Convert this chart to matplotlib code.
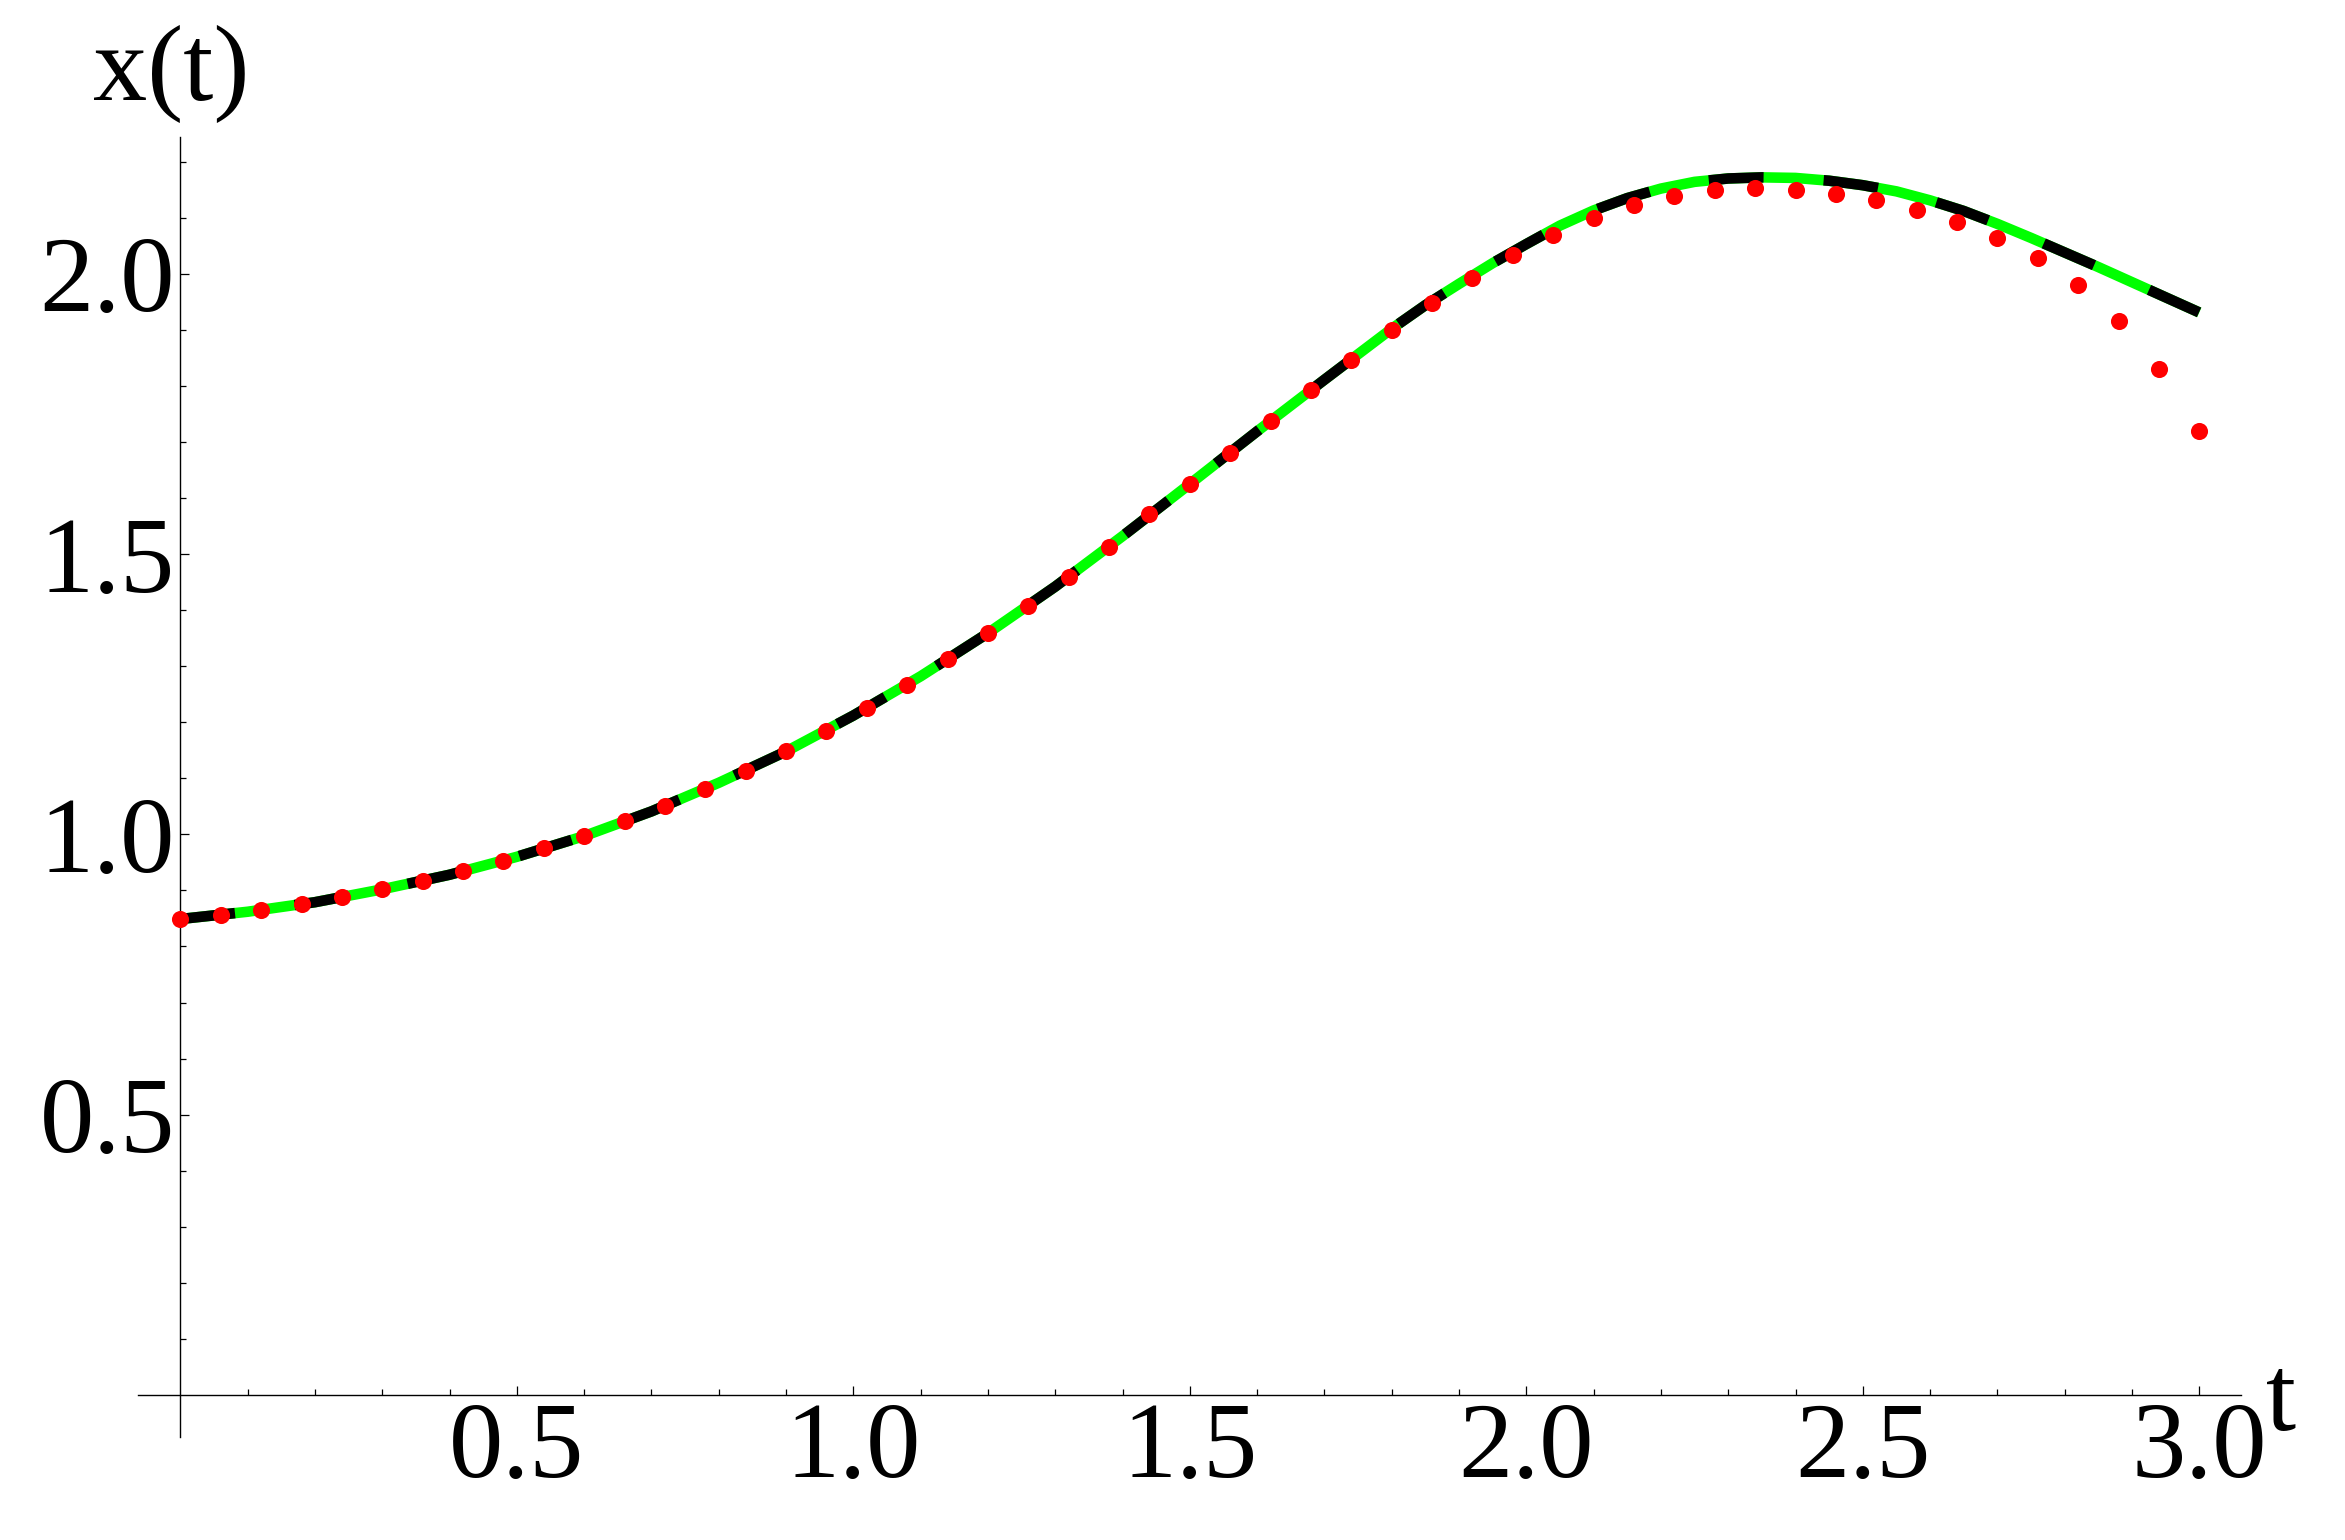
import numpy as np
import matplotlib
matplotlib.use('Agg')
import matplotlib.pyplot as plt
from matplotlib.ticker import FixedLocator

# ─── DATA ─────────────────────────────────────────────────────────────────
# exact solution: green line overlaid with a black dashed line
t_curve = [0.0, 0.1, 0.2, 0.3, 0.4, 0.5, 0.6, 0.7, 0.8, 0.9,
           1.0, 1.1, 1.2, 1.3, 1.4, 1.5, 1.6, 1.7, 1.8, 1.85,
           1.9, 1.95, 2.0, 2.05, 2.1, 2.15, 2.2, 2.25, 2.3, 2.35,
           2.4, 2.45, 2.5, 2.55, 2.6, 2.65, 2.7, 2.75, 2.8, 2.85,
           2.9, 2.95, 3.0]
x_curve = [0.849, 0.862, 0.879, 0.902, 0.928, 0.960, 0.997, 1.041, 1.092, 1.148,
           1.212, 1.282, 1.359, 1.442, 1.532, 1.625, 1.719, 1.811, 1.902, 1.944,
           1.982, 2.019, 2.053, 2.086, 2.113, 2.135, 2.152, 2.164, 2.170, 2.172,
           2.171, 2.166, 2.158, 2.147, 2.131, 2.112, 2.089, 2.064, 2.038, 2.012,
           1.985, 1.958, 1.931]

# approximate solution: red dots every 0.06
t_dots = np.round(np.arange(51) * 0.06, 2)
x_dots = [0.849, 0.856, 0.865, 0.875, 0.888, 0.902, 0.917, 0.934, 0.953, 0.975,
          0.997, 1.023, 1.051, 1.081, 1.113, 1.148, 1.185, 1.225, 1.267, 1.312,
          1.359, 1.408, 1.459, 1.513, 1.571, 1.625, 1.681, 1.738, 1.793, 1.847,
          1.900, 1.948, 1.993, 2.034, 2.070, 2.099, 2.122, 2.139, 2.149, 2.153,
          2.150, 2.143, 2.131, 2.114, 2.092, 2.064, 2.028, 1.980, 1.916, 1.830,
          1.720]

x_major = [0.5, 1.0, 1.5, 2.0, 2.5, 3.0]
x_labels = ['0.5', '1.0', '1.5', '2.0', '2.5', '3.0']
y_major = [0.5, 1.0, 1.5, 2.0]
y_labels = ['0.5', '1.0', '1.5', '2.0']
x_minor = [round(0.1 * i, 1) for i in range(1, 31) if i % 5]
y_minor = [round(0.1 * i, 1) for i in range(1, 23) if i % 5]

# ─── STYLE ────────────────────────────────────────────────────────────────
SERIF = 'Liberation Serif'
FS = 78
W, H = 2345, 1540

fig = plt.figure(figsize=(W / 100, H / 100), dpi=100, facecolor='white')
ax = fig.add_axes([138 / W, 1 - 1437 / H, (2241 - 138) / W, (1437 - 137) / H])
ax.set_xlim(-0.063, 3.062)
ax.set_ylim(-0.075, 2.244)

ax.plot(t_curve, x_curve, color='#00ff00', lw=7.6, solid_capstyle='butt',
        solid_joinstyle='round', zorder=2)
ax.plot(t_curve, x_curve, color='black', lw=7.6, dashes=(5.2, 5.7),
        dash_capstyle='butt', dash_joinstyle='round', zorder=3)
ax.plot(t_dots, x_dots, 'o', color='#ff0000', ms=12.3, mew=0, zorder=4, clip_on=False)

# Mathematica style crossing axes
for side in ['top', 'right']:
    ax.spines[side].set_visible(False)
for side in ['left', 'bottom']:
    ax.spines[side].set_position(('data', 0))
    ax.spines[side].set_linewidth(1.0)

ax.xaxis.set_major_locator(FixedLocator(x_major))
ax.xaxis.set_minor_locator(FixedLocator(x_minor))
ax.yaxis.set_major_locator(FixedLocator(y_major))
ax.yaxis.set_minor_locator(FixedLocator(y_minor))
ax.set_xticklabels(x_labels)
ax.set_yticklabels(y_labels)

ax.tick_params(which='both', direction='in', width=0.9)
ax.tick_params(which='major', length=6.5)
ax.tick_params(which='minor', length=4.3)
ax.tick_params(axis='x', which='major', pad=5)
ax.tick_params(axis='y', which='major', pad=4)
for lab in ax.get_xticklabels() + ax.get_yticklabels():
    lab.set_fontfamily(SERIF)
    lab.set_fontsize(FS)

fig.text(93 / W, 1 - 100 / H, 'x(t)', ha='left', va='baseline',
         fontsize=FS, family=SERIF)
fig.text(2266 / W, 1 - 1430 / H, 't', ha='left', va='baseline',
         fontsize=FS, family=SERIF)

fig.savefig('out.png', dpi=100, facecolor='white')
